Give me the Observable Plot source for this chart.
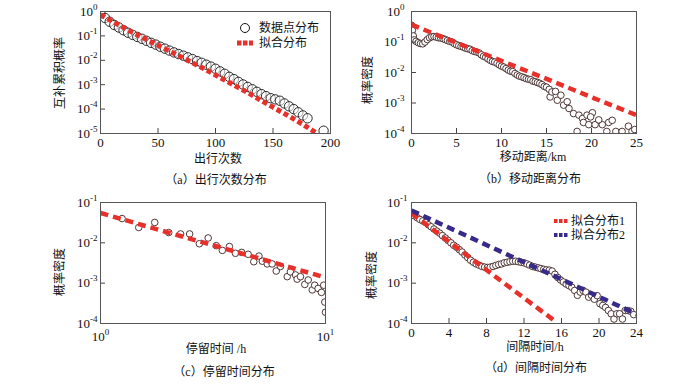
<!DOCTYPE html>
<html><head><meta charset="utf-8">
<script src="https://cdn.jsdelivr.net/npm/d3@7"></script>
<script src="https://cdn.jsdelivr.net/npm/@observablehq/plot@0.6"></script>
<style>
body{margin:0;background:#fff;}
#root{position:relative;width:700px;height:385px;overflow:hidden;background:#fff;}
</style></head><body><div id="root"></div>
<script>
// ---------- (a) trips: complementary cumulative probability ----------
const tripsN = [0,4,8,12,16,20,24,28,32,36,40,44,48,52,56,60,64,68,72,76,80,84,88,92,96,100,104,108,112,116,120,124,128,132,136,140,144,148,152,156,160,164,168,172,176,180,194];
const tripsP = [0.79,0.54,0.38,0.28,0.22,0.17,0.135,0.11,0.091,0.076,0.063,0.052,0.044,0.036,0.030,0.025,0.021,0.018,0.0155,0.0132,0.0112,0.0093,0.0079,0.0066,0.0055,0.0045,0.0035,0.0028,0.0021,0.0017,0.0013,0.00102,8.1e-4,6.5e-4,5.1e-4,4.1e-4,3.4e-4,2.8e-4,2.5e-4,2.2e-4,1.7e-4,1.3e-4,1.0e-4,7.4e-5,5.5e-5,4.2e-5,1.3e-5];
const tripsFitN = [0,10,20,30,40,50,60,70,80,90,100,110,120,130,140,150,160,170,180,187];
const tripsFitP = [0.74,0.40,0.22,0.123,0.071,0.041,0.024,0.0138,0.0079,0.0045,0.0025,0.00138,7.6e-4,4.2e-4,2.2e-4,1.2e-4,6.5e-5,3.5e-5,1.8e-5,1.1e-5];
const aXTicks = [0,50,100,150,200];
const aYTicks = [1e-5,1e-4,1e-3,1e-2,1e-1,1];
const aYLabels = ["10^-5","10^-4","10^-3","10^-2","10^-1","10^0"];

// ---------- (b) travel distance: probability density ----------
const distKm = [0,0.1,0.2,0.3,0.5,0.75,1,1.25,1.5,1.75,2,2.25,2.5,2.75,3,3.25,3.5,3.75,4,4.25,4.5,4.75,5,5.25,5.5,5.75,6,6.25,6.5,6.75,7,7.25,7.5,7.75,8,8.25,8.5,8.75,9,9.25,9.5,9.75,10,10.25,10.5,10.75,11,11.25,11.5,11.75,12,12.25,12.5,12.75,13,13.25,13.5,13.75,14,14.25,14.5,14.75,15,
  15.3,15.4,15.6,16.0,16.2,16.6,16.9,17.3,17.5,18.0,18.4,18.6,19.0,19.1,19.5,19.7,20.1,20.4,21.2,21.7,21.9,22.3,22.7,23.4,24.1,24.5,24.8,19.9,20.8];
const distP = [0.355,0.24,0.158,0.117,0.105,0.095,0.089,0.087,0.100,0.120,0.138,0.148,0.151,0.145,0.138,0.135,0.129,0.120,0.112,0.105,0.100,0.089,0.081,0.076,0.072,0.068,0.063,0.060,0.058,0.052,0.049,0.047,0.044,0.038,0.034,0.032,0.028,0.025,0.023,0.022,0.020,0.0178,0.0162,0.0151,0.0135,0.0120,0.0110,0.0107,0.0093,0.0083,0.0076,0.0072,0.0068,0.0063,0.0060,0.0058,0.0052,0.0050,0.0047,0.0044,0.0040,0.0035,0.0033,
  0.0028,0.00158,0.0023,0.0024,0.00123,0.0018,8.5e-4,0.0011,6.6e-4,4.5e-4,1.17e-4,4.0e-4,3.1e-4,2.3e-4,4.0e-4,1.95e-4,4.8e-4,1.95e-4,1.95e-4,1.17e-4,2.3e-4,2.7e-4,1.17e-4,1.17e-4,1.74e-4,1.17e-4,1.35e-4,3.5e-4,2.8e-4];
const distFitKm = [0,5,10,15,20,25];
const distFitP = [0.37,0.095,0.024,0.0062,0.00155,4.0e-4];
const bXTicks = [0,5,10,15,20,25];
const bYTicks = [1e-4,1e-3,1e-2,1e-1,1];
const bYLabels = ["10^-4","10^-3","10^-2","10^-1","10^0"];

// ---------- (c) stay time: probability density (log-log) ----------
const stayH = [1.247,1.479,1.742,2.01,2.27,2.49,2.75,3.01,3.27,3.48,3.74,3.98,4.24,4.53,4.80,5.06,5.24,5.51,5.79,6.04,6.31,6.76,6.98,7.36,7.48,7.74,8.09,8.38,8.73,8.95,9.27,9.59,9.82,9.93,10.0];
const stayP = [0.040,0.024,0.032,0.018,0.0166,0.0166,0.0095,0.0132,0.0085,0.0065,0.0081,0.0055,0.0058,0.0052,0.0034,0.0047,0.0035,0.0030,0.0030,0.0020,0.0026,0.00145,0.0019,0.0016,0.00126,0.00145,9.3e-4,0.0012,6.8e-4,8.9e-4,7.4e-4,5.9e-4,8.9e-4,3.4e-4,1.9e-4];
const stayFitH = [1,2,5,10];
const stayFitP = [0.055,0.018,0.0042,0.00138];
const cXTicks = [1,10];
const cXLabels = ["10^0","10^1"];
const cYTicks = [1e-4,1e-3,1e-2,1e-1];
const cYLabels = ["10^-4","10^-3","10^-2","10^-1"];

// ---------- (d) interval time: probability density ----------
const gapH = [0,0.3,0.6,0.9,1.2,1.5,1.8,2.1,2.4,2.7,3,3.3,3.6,3.9,4.2,4.5,4.8,5.1,5.4,5.7,6,6.3,6.6,6.9,7.2,7.5,7.8,8.1,8.4,8.7,9,9.3,9.6,9.9,10.2,10.5,10.8,11.1,11.4,11.7,12,12.3,12.6,12.9,13.2,13.5,13.8,14.1,14.4,14.7,15,15.3,15.6,15.9,16.2,16.5,16.8,17.1,17.4,17.7,18,18.3,18.6,18.9,19.2,19.5,19.8,20.1,20.4,20.7,21,21.3,21.6,21.9,22.2,22.5,22.8,23.1,23.4,23.7];
const gapP = [0.052,0.047,0.042,0.038,0.035,0.032,0.028,0.025,0.022,0.0195,
  0.0174,0.0151,0.0132,0.0115,0.0100,0.0087,0.0078,0.0068,0.0059,0.0050,
  0.0043,0.0037,0.0033,0.0030,0.0028,0.0026,0.0025,0.00245,0.0025,0.0026,
  0.00275,0.0029,0.0030,0.0032,0.0033,0.0034,0.0035,0.0035,0.0034,0.0033,
  0.0032,0.0030,0.0028,0.0026,0.0025,0.0024,0.0023,0.0022,0.00214,0.0021,
  0.0020,0.00166,0.00138,0.0012,0.00107,9.5e-4,8.7e-4,7.9e-4,6.6e-4,5.0e-4,
  6.0e-4,6.6e-4,6.0e-4,4.5e-4,5.0e-4,4.0e-4,4.9e-4,3.1e-4,2.8e-4,2.5e-4,
  2.1e-4,1.74e-4,1.29e-4,1.74e-4,1.74e-4,1.29e-4,2.1e-4,2.1e-4,2.0e-4,1.66e-4];
const gapFit1H = [0,5,10,15.2];
const gapFit1P = [0.054,0.0071,9.5e-4,1.2e-4];
const gapFit2H = [0,6,12,18,24];
const gapFit2P = [0.063,0.0145,0.0033,7.6e-4,1.7e-4];
const dXTicks = [0,4,8,12,16,20,24];
const dYTicks = [1e-4,1e-3,1e-2,1e-1];
const dYLabels = ["10^-4","10^-3","10^-2","10^-1"];

// ---------- texts ----------
const texts = {
  a: {x: "出行次数", y: "互补累积概率", cap: "（a）出行次数分布", leg: ["数据点分布", "拟合分布"]},
  b: {x: "移动距离/km", y: "概率密度", cap: "（b）移动距离分布"},
  c: {x: "停留时间 /h", y: "概率密度", cap: "（c）停留时间分布"},
  d: {x: "间隔时间/h", y: "概率密度", cap: "（d）间隔时间分布", leg: ["拟合分布1", "拟合分布2"]}
};

const FONT = '"Liberation Serif","Times New Roman","Noto Sans CJK SC",serif';
const RED = "#e8302a", BLUE = "#372a88", BROWN = "#3d2222";
const zip = (xs, ys) => xs.map((x, i) => ({x, y: ys[i]}));
const fmt = (ticks, labels) => d => labels[ticks.indexOf(d)];
const NS = "http://www.w3.org/2000/svg";

function sup(svg) {
  svg.querySelectorAll("text").forEach(t => {
    const s = t.textContent;
    if (s.includes("^")) {
      const [b, e] = s.split("^");
      t.textContent = b;
      const ts = document.createElementNS(NS, "tspan");
      ts.setAttribute("dy", "-6");
      ts.setAttribute("font-size", "9");
      ts.textContent = e;
      t.appendChild(ts);
    }
  });
}

function panel(cfg) {
  const fw = cfg.width - cfg.ml - cfg.mr, fh = cfg.height - cfg.mt - cfg.mb;
  const chart = Plot.plot({
    width: cfg.width, height: cfg.height,
    marginLeft: cfg.ml, marginRight: cfg.mr, marginTop: cfg.mt, marginBottom: cfg.mb,
    style: {fontFamily: FONT, fontSize: "13px", color: "#111", background: "transparent", overflow: "visible"},
    x: Object.assign({label: null, tickSize: 0, tickPadding: cfg.xpad}, cfg.x),
    y: Object.assign({label: null, tickSize: 0, tickPadding: cfg.ypad}, cfg.y),
    marks: [
      ...cfg.marks,
      Plot.tickX(cfg.x.ticks, {x: d => d, insetTop: fh - 5, stroke: "#444"}),
      Plot.tickY(cfg.y.ticks, {y: d => d, insetRight: fw - 5, stroke: "#444"}),
      Plot.frame({stroke: "#555"})
    ]
  });
  chart.style.position = "absolute";
  chart.style.left = cfg.left + "px";
  chart.style.top = cfg.top + "px";
  sup(chart);
  const s = d3.select(chart);
  const t = cfg.t;
  const add = (x, y, str, rot) => s.append("text")
    .attr("transform", `translate(${x},${y})` + (rot ? " rotate(-90)" : ""))
    .attr("text-anchor", "middle").attr("dominant-baseline", "central")
    .attr("font-size", 12).attr("fill", "#111").text(str);
  add(cfg.xl[0], cfg.xl[1], t.x);
  add(cfg.yl[0], cfg.yl[1], t.y, true);
  add(cfg.cp[0], cfg.cp[1], t.cap);
  if (cfg.legend) cfg.legend(s);
  document.getElementById("root").appendChild(chart);
}

const legText = (s, x, y, str) => s.append("text").attr("x", x).attr("y", y)
  .attr("text-anchor", "start").attr("dominant-baseline", "central")
  .attr("font-size", 12).attr("fill", "#111").text(str);

const dash = {strokeLinecap: "butt", strokeLinejoin: "miter", clip: true};

// (a)
panel({
  left: 0, top: 0, width: 350, height: 190, ml: 100, mr: 20, mt: 11, mb: 57, xpad: 4, ypad: 3,
  x: {domain: [0, 200], ticks: aXTicks},
  y: {type: "log", domain: [1e-5, 1], ticks: aYTicks, tickFormat: fmt(aYTicks, aYLabels)},
  marks: [
    Plot.dot(zip(tripsN, tripsP), {x: "x", y: "y", r: 4.7, stroke: "#151515", strokeWidth: 0.9, fill: "white", fillOpacity: 0.55, clip: true}),
    Plot.line(zip(tripsFitN, tripsFitP), {x: "x", y: "y", stroke: RED, strokeWidth: 5, strokeDasharray: "5,3", ...dash})
  ],
  t: texts.a, xl: [218, 159], yl: [60, 73], cp: [216, 180],
  legend: s => {
    s.append("circle").attr("cx", 245).attr("cy", 28).attr("r", 4.5).attr("fill", "white").attr("stroke", "#151515");
    s.append("line").attr("x1", 237).attr("x2", 253).attr("y1", 43).attr("y2", 43)
      .attr("stroke", RED).attr("stroke-width", 5).attr("stroke-dasharray", "4.5,1.5");
    legText(s, 259, 28, texts.a.leg[0]);
    legText(s, 259, 43, texts.a.leg[1]);
  }
});

// (b)
panel({
  left: 350, top: 0, width: 350, height: 190, ml: 61, mr: 64, mt: 11, mb: 57, xpad: 4, ypad: 7,
  x: {domain: [0, 25], ticks: bXTicks},
  y: {type: "log", domain: [1e-4, 1], ticks: bYTicks, tickFormat: fmt(bYTicks, bYLabels)},
  marks: [
    Plot.dot(zip(distKm, distP), {x: "x", y: "y", r: 3.3, stroke: BROWN, strokeWidth: 0.9, fill: "white", clip: true}),
    Plot.line(zip(distFitKm, distFitP), {x: "x", y: "y", stroke: RED, strokeWidth: 4.5, strokeDasharray: "8,5", ...dash})
  ],
  t: texts.b, xl: [183, 157], yl: [18, 80], cp: [180, 179]
});

// (c)
panel({
  left: 0, top: 190, width: 350, height: 195, ml: 100, mr: 25, mt: 12, mb: 62, xpad: 8, ypad: 3,
  x: {type: "log", domain: [1, 10], ticks: cXTicks, tickFormat: fmt(cXTicks, cXLabels)},
  y: {type: "log", domain: [1e-4, 1e-1], ticks: cYTicks, tickFormat: fmt(cYTicks, cYLabels)},
  marks: [
    Plot.dot(zip(stayH, stayP), {x: "x", y: "y", r: 3.3, stroke: BROWN, strokeWidth: 0.9, fill: "white", clip: true}),
    Plot.line(zip(stayFitH, stayFitP), {x: "x", y: "y", stroke: RED, strokeWidth: 4.5, strokeDasharray: "8,5", ...dash})
  ],
  t: texts.c, xl: [216, 159], yl: [60, 82], cp: [224, 182]
});

// (d)
panel({
  left: 350, top: 190, width: 350, height: 195, ml: 61, mr: 64, mt: 12, mb: 62, xpad: 4, ypad: 4,
  x: {domain: [0, 24], ticks: dXTicks},
  y: {type: "log", domain: [1e-4, 1e-1], ticks: dYTicks, tickFormat: fmt(dYTicks, dYLabels)},
  marks: [
    Plot.dot(zip(gapH, gapP), {x: "x", y: "y", r: 3.3, stroke: BROWN, strokeWidth: 0.9, fill: "white", clip: true}),
    Plot.line(zip(gapFit1H, gapFit1P), {x: "x", y: "y", stroke: RED, strokeWidth: 4.5, strokeDasharray: "8,5", ...dash}),
    Plot.line(zip(gapFit2H, gapFit2P), {x: "x", y: "y", stroke: BLUE, strokeWidth: 4.5, strokeDasharray: "8,5", ...dash})
  ],
  t: texts.d, xl: [185, 157], yl: [22, 85], cp: [186, 178],
  legend: s => {
    [[RED, 31, 0], [BLUE, 45, 1]].forEach(([c, y, i]) => {
      s.append("line").attr("x1", 204).attr("x2", 218).attr("y1", y).attr("y2", y)
        .attr("stroke", c).attr("stroke-width", 4).attr("stroke-dasharray", "3.5,1.5");
      legText(s, 221, y, texts.d.leg[i]);
    });
  }
});
</script></body></html>
